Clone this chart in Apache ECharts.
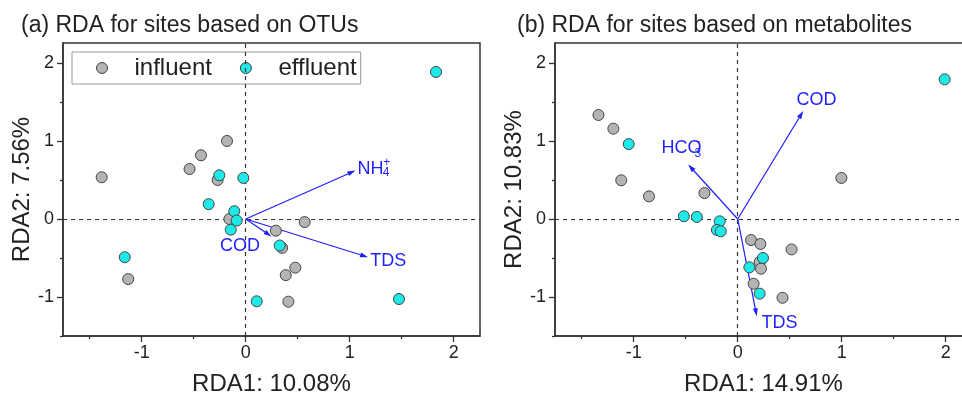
<!DOCTYPE html>
<html><head><meta charset="utf-8">
<script src="https://cdn.jsdelivr.net/npm/echarts@6/dist/echarts.min.js"></script>
<style>html,body{margin:0;padding:0;background:#fff;overflow:hidden}#c{width:962px;height:395px}</style>
</head><body><div id="c"></div>
<script>
const seriesNames = ['influent', 'effluent'];
const otuInfluent = [[-1.385,0.535],[-0.18,1.0],[-0.43,0.817],[-0.54,0.64],[-0.27,0.50],[-0.157,0.0],[0.567,-0.04],[0.29,-0.15],[-1.13,-0.77],[0.35,-0.37],[0.477,-0.624],[0.385,-0.72],[0.41,-1.06]];
const otuEffluent = [[1.83,1.885],[-0.254,0.56],[-0.023,0.526],[-0.356,0.19],[-0.11,0.10],[-0.087,-0.02],[-0.144,-0.137],[0.327,-0.34],[-1.163,-0.49],[0.106,-1.055],[1.474,-1.026]];
const metInfluent = [[-1.339,1.333],[-1.196,1.158],[-1.12,0.496],[-0.853,0.29],[-0.32,0.333],[0.997,0.526],[0.128,-0.27],[0.218,-0.32],[0.518,-0.39],[0.211,-0.55],[0.224,-0.637],[0.153,-0.83],[0.431,-1.01]];
const metEffluent = [[1.99,1.79],[-1.048,0.96],[-0.518,0.035],[-0.393,0.026],[-0.173,-0.03],[-0.2,-0.14],[-0.163,-0.158],[0.243,-0.50],[0.112,-0.62],[0.211,-0.957]];
const otuVectorNames = ['NH4+', 'TDS', 'COD'];
const otuVectorEnds = [[1.02,0.6],[1.14,-0.475],[0.217,-0.196]];
const metVectorNames = ['COD', 'HCO3-', 'TDS'];
const metVectorEnds = [[0.61,1.34],[-0.45,0.66],[0.176,-1.196]];
const titles = ['(a) RDA for sites based on OTUs', '(b) RDA for sites based on metabolites'];
const xNames = ['RDA1: 10.08%', 'RDA1: 14.91%'];
const yNames = ['RDA2: 7.56%', 'RDA2: 10.83%'];
const majorTicks = [-1, 0, 1, 2];
const minorTicks = [-1.5, -0.5, 0.5, 1.5];
const xLimits = [-1.757, 2.253];
const yLimits = [-1.5, 2.256];

const FONT = 'Liberation Sans, Arial, sans-serif';
const AX = '#333';
const GREY = '#b4b4b4', CYAN = '#1de9e9', BLUE = '#1f1fff';

// label pieces: [text, dx, dy, fontSize] relative to arrow tip pixel (left-aligned, vertically centred)
const labelPieces = {
  'NH4+': [['NH', 5.6, -3.5, 18], ['4', 31, 0.5, 12], ['+', 31.5, -9, 12]],
  'TDS0': [['TDS', 6, 5, 18]],
  'COD0': [['COD', -48.3, 11.7, 18]],
  'COD1': [['COD', -4.7, -14.3, 18]],
  'HCO3-': [['HCO', -29.5, -19.4, 18], ['3', 3.5, -14.2, 12], ['-', 5, -26, 13]],
  'TDS1': [['TDS', 5.4, 10.4, 18]]
};

const grids = [
  {left: 63, top: 43, width: 417, height: 293, show: true, borderColor: AX, borderWidth: 1.5, outerBoundsMode: 'none', containLabel: false},
  {left: 555, top: 43, width: 417, height: 293, show: true, borderColor: AX, borderWidth: 1.5, outerBoundsMode: 'none', containLabel: false}
];

const xAxes = [], yAxes = [];
for (let g = 0; g < 2; g++) {
  xAxes.push({
    type: 'value', gridIndex: g, min: xLimits[0], max: xLimits[1], position: 'bottom',
    name: xNames[g], nameLocation: 'middle', nameGap: 36,
    nameTextStyle: {fontSize: 24, fontFamily: FONT, color: '#222'},
    axisLine: {show: true, onZero: false, lineStyle: {color: AX, width: 1.5}},
    axisTick: {show: true, length: 6, customValues: majorTicks, lineStyle: {color: AX, width: 1.3}},
    axisLabel: {customValues: majorTicks, fontSize: 18, fontFamily: FONT, color: '#222', margin: 8},
    splitLine: {show: false}
  });
  xAxes.push({
    type: 'value', gridIndex: g, min: xLimits[0], max: xLimits[1], position: 'bottom',
    axisLine: {show: false, onZero: false},
    axisTick: {show: true, length: 3, customValues: minorTicks, lineStyle: {color: AX, width: 1.3}},
    axisLabel: {show: false}, splitLine: {show: false}
  });
  yAxes.push({
    type: 'value', gridIndex: g, min: yLimits[0], max: yLimits[1], position: 'left',
    name: yNames[g], nameLocation: 'middle', nameGap: 23,
    nameTextStyle: {fontSize: 24, fontFamily: FONT, color: '#222'},
    axisLine: {show: true, onZero: false, lineStyle: {color: AX, width: 1.5}},
    axisTick: {show: true, length: 6, customValues: majorTicks, lineStyle: {color: AX, width: 1.3}},
    axisLabel: {customValues: majorTicks, fontSize: 18, fontFamily: FONT, color: '#222', margin: 9},
    splitLine: {show: false}
  });
  yAxes.push({
    type: 'value', gridIndex: g, min: yLimits[0], max: yLimits[1], position: 'left',
    axisLine: {show: false, onZero: false},
    axisTick: {show: true, length: 3, customValues: minorTicks, lineStyle: {color: AX, width: 1.3}},
    axisLabel: {show: false}, splitLine: {show: false}
  });
}

function pointSeries(name, data, g, color) {
  return {
    type: 'scatter', name: name, data: data, xAxisIndex: 2 * g, yAxisIndex: 2 * g,
    symbol: 'circle', symbolSize: 11,
    itemStyle: {color: color, borderColor: '#444', borderWidth: 1, opacity: 1},
    z: 5
  };
}

function refSeries(g) {
  return {
    type: 'scatter', name: 'ref' + g, data: [], xAxisIndex: 2 * g, yAxisIndex: 2 * g, silent: true,
    markLine: {
      silent: true, animation: false, label: {show: false}, symbol: 'none',
      lineStyle: {color: AX, type: [4, 4], width: 1.2},
      data: [{xAxis: 0}, {yAxis: 0}]
    },
    z: 2
  };
}

function arrowSeries(g, ends) {
  return {
    type: 'scatter', name: 'vec' + g, data: [], xAxisIndex: 2 * g, yAxisIndex: 2 * g, silent: true,
    markLine: {
      silent: true, animation: false, label: {show: false},
      symbol: ['none', 'triangle'], symbolSize: [1, 7],
      lineStyle: {color: BLUE, type: 'solid', width: 1.2},
      itemStyle: {color: BLUE},
      data: ends.map(e => [{coord: [0, 0]}, {coord: e, symbol: 'triangle', symbolSize: [5, 8]}])
    },
    z: 3
  };
}

const titleStyle = {fontSize: 23, fontWeight: 'normal', fontFamily: FONT, color: '#222'};
const option = {
  animation: false,
  backgroundColor: '#fff',
  title: [
    {text: titles[0], left: 21, top: 14, padding: 0, textStyle: titleStyle},
    {text: titles[1], left: 517, top: 14, padding: 0, textStyle: titleStyle}
  ],
  legend: {
    data: seriesNames, left: 72, top: 52, orient: 'horizontal',
    padding: [4, 4, 4, 24], itemWidth: 11, itemHeight: 11, itemGap: 28,
    backgroundColor: '#fff', borderColor: '#999', borderWidth: 1,
    itemStyle: {borderColor: '#444', borderWidth: 1},
    textStyle: {fontSize: 24, fontFamily: FONT, color: '#222', padding: [0, 0, 0, 22]},
    selectedMode: false
  },
  grid: grids,
  xAxis: xAxes,
  yAxis: yAxes,
  series: [
    refSeries(0), refSeries(1),
    arrowSeries(0, otuVectorEnds), arrowSeries(1, metVectorEnds),
    pointSeries(seriesNames[0], otuInfluent, 0, GREY),
    pointSeries(seriesNames[1], otuEffluent, 0, CYAN),
    pointSeries(seriesNames[0], metInfluent, 1, GREY),
    pointSeries(seriesNames[1], metEffluent, 1, CYAN)
  ]
};

const chart = echarts.init(document.getElementById('c'), null, {renderer: 'canvas'});
chart.setOption(option);

function keyFor(name, g) {
  if (labelPieces[name]) return name;
  return name + g;
}
const graphics = [];
[[otuVectorNames, otuVectorEnds], [metVectorNames, metVectorEnds]].forEach(([names, ends], g) => {
  names.forEach((n, i) => {
    const p = chart.convertToPixel({xAxisIndex: 2 * g, yAxisIndex: 2 * g}, ends[i]);
    labelPieces[keyFor(n, g)].forEach(([t, dx, dy, fs]) => {
      graphics.push({
        type: 'text', x: p[0] + dx, y: p[1] + dy, z: 10,
        style: {text: t, fill: BLUE, fontSize: fs, fontFamily: FONT, align: 'left', verticalAlign: 'middle'}
      });
    });
  });
});
chart.setOption({graphic: graphics});
</script></body></html>
